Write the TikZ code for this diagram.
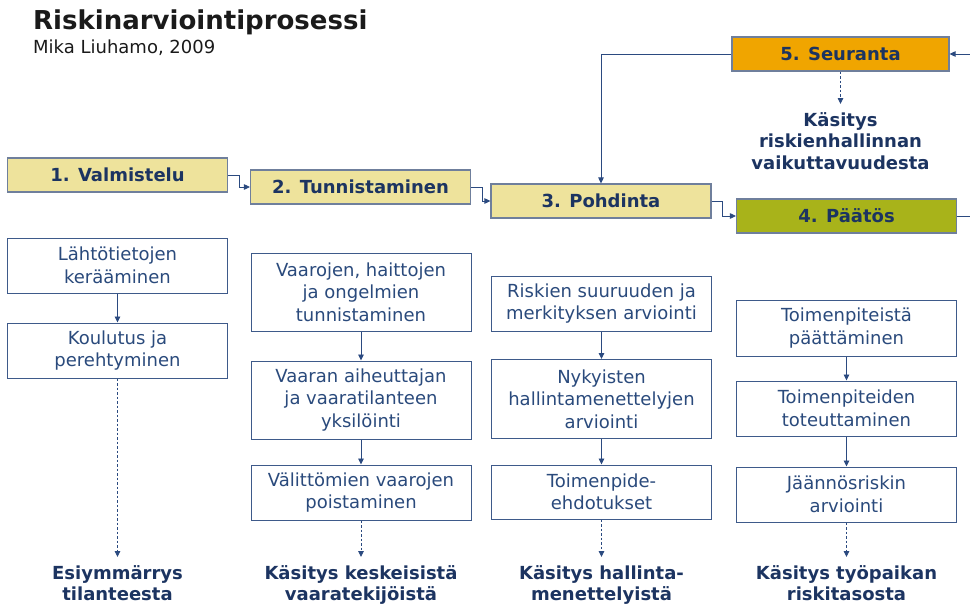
\documentclass[tikz,border=0pt]{standalone}
\usepackage{fontspec}
\setmainfont{DejaVu Sans}
\usetikzlibrary{arrows.meta}
\definecolor{titlec}{HTML}{1A1A1A}
\definecolor{navy}{HTML}{1C3461}
\definecolor{boxtext}{HTML}{2A4A7C}
\definecolor{frame}{HTML}{3E5A8A}
\definecolor{phaseframe}{HTML}{6F7F9C}
\definecolor{arrowc}{HTML}{2B4A80}
\definecolor{valmis}{HTML}{EEE39C}
\definecolor{paatos}{HTML}{A8B31A}
\definecolor{seuranta}{HTML}{F0A500}

\begin{document}
\begin{tikzpicture}[x=1pt,y=-1pt]
\tikzstyle{phase}=[draw=phaseframe,line width=1.1pt,minimum width=220pt,minimum height=34pt,inner sep=0pt,font=\fontsize{18}{22}\selectfont\bfseries,text=navy]
\tikzstyle{task}=[draw=frame,line width=1pt,fill=white,minimum width=220pt,align=center,inner sep=0pt,font=\fontsize{18}{22.5}\selectfont,text=boxtext]
\tikzstyle{result}=[anchor=north,align=center,inner sep=0pt,font=\fontsize{18}{21.5}\selectfont\bfseries,text=navy]
\tikzstyle{flow}=[-{Triangle[length=6pt,width=5.5pt]},draw=arrowc,line width=0.9pt]
\tikzstyle{outcome}=[flow,dash pattern=on 2.5pt off 2pt,shorten >=8pt]
\useasboundingbox (0,0) rectangle (970,605);
\node[anchor=base west,inner sep=0pt,font=\fontsize{26}{30}\selectfont\bfseries,text=titlec] (title) at (33,30) {Riskinarviointiprosessi};
\node[anchor=base west,inner sep=0pt,font=\fontsize{18}{22}\selectfont,text=titlec] (tekija) at (33,53) {Mika Liuhamo, 2009};
\node[phase,fill=valmis] (v1) at (117.5,175) {1. Valmistelu};
\node[phase,fill=valmis] (v2) at (360.5,187) {2. Tunnistaminen};
\node[phase,fill=valmis] (v3) at (601,201) {3. Pohdinta};
\node[phase,fill=paatos] (v4) at (846.5,216) {4. Päätös};
\node[phase,fill=seuranta,minimum width=217pt] (v5) at (840.5,54) {5. Seuranta};
\foreach \name/\x/\y/\h/\txt in {
	a1/117.5/265.5/55/{Lähtötietojen\\kerääminen},
	a2/117.5/350.5/55/{Koulutus ja\\perehtyminen},
	b1/361/292/78/{Vaarojen, haittojen\\ja ongelmien\\tunnistaminen},
	b2/361/400/78/{Vaaran aiheuttajan\\ja vaaratilanteen\\yksilöinti},
	b3/361/492.5/55/{Välittömien vaarojen\\poistaminen},
	c1/601.5/303.5/55/{Riskien suuruuden ja\\merkityksen arviointi},
	c2/601.5/399/79/{Nykyisten\\hallintamenettelyjen\\arviointi},
	c3/601.5/492/54/{Toimenpide-\\ehdotukset},
	d1/846.5/328/56/{Toimenpiteistä\\päättäminen},
	d2/846.5/408.5/55/{Toimenpiteiden\\toteuttaminen},
	d3/846.5/494.5/55/{Jäännösriskin\\arviointi}}
	\node[task,minimum height=\h pt] (\name) at (\x,\y) {\txt};
\foreach \name/\x/\y/\txt in {
	r1/117.5/565/{Esiymmärrys\\tilanteesta},
	r2/361/565/{Käsitys keskeisistä\\vaaratekijöistä},
	r3/601.5/565/{Käsitys hallinta-\\menettelyistä},
	r4/846.5/565/{Käsitys työpaikan\\riskitasosta},
	r5/840.5/112/{Käsitys\\riskienhallinnan\\vaikuttavuudesta}}
	\node[result] (\name) at (\x,\y) {\txt};
\draw[flow] (v1.east) -- ++(11,0) |- (v2.west);
\draw[flow] (v2.east) -- ++(11,0) |- (v3.west);
\draw[flow] (v3.east) -- ++(11,0) |- (v4.west);
\draw[flow] (v5.west) -| (v3.north);
\draw[flow] (v4.east) -- ++(60,0) |- (v5.east);
\draw[flow] (a1) -- (a2);
\draw[flow] (b1) -- (b2);
\draw[flow] (b2) -- (b3);
\draw[flow] (c1) -- (c2);
\draw[flow] (c2) -- (c3);
\draw[flow] (d1) -- (d2);
\draw[flow] (d2) -- (d3);
\draw[outcome] (a2) -- (r1);
\draw[outcome] (b3) -- (r2);
\draw[outcome] (c3) -- (r3);
\draw[outcome] (d3) -- (r4);
\draw[outcome] (v5) -- (r5);
\end{tikzpicture}
\end{document}
